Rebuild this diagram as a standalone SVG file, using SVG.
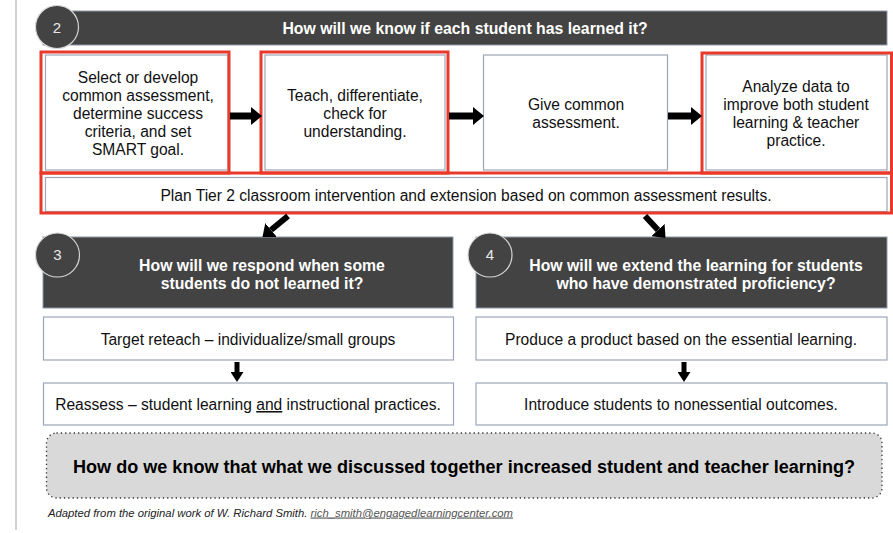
<svg xmlns="http://www.w3.org/2000/svg" width="893" height="533" viewBox="0 0 893 533">
<style>
.box{fill:#fff;stroke:#9ea6b6;stroke-width:1.2}
.red{fill:none;stroke:#e8392b;stroke-width:3}
.hdr{fill:#434343;stroke:#8f97a6;stroke-width:1}
.circ{fill:#434343;stroke:#d6d6d6;stroke-width:1.2}
.num{font-family:"Liberation Sans",Arial,sans-serif;font-size:15px;fill:#e8e8e8;text-anchor:middle}
.ht{font-family:"Liberation Sans",Arial,sans-serif;font-size:15.8px;font-weight:bold;fill:#fff;text-anchor:middle}
.t{font-family:"Liberation Sans",Arial,sans-serif;font-size:15.6px;fill:#111;text-anchor:middle}
.arr{stroke:#000;fill:none}
</style>
<defs>
<marker id="headH" markerUnits="userSpaceOnUse" markerWidth="11" markerHeight="18" refX="0" refY="9" orient="auto"><path d="M0,0 L11,9 L0,18 z" fill="#000"/></marker>
<marker id="headS" markerUnits="userSpaceOnUse" markerWidth="10" markerHeight="13" refX="0" refY="6.5" orient="auto"><path d="M0,0 L10,6.5 L0,13 z" fill="#000"/></marker>
</defs>
<rect width="893" height="533" fill="#fff"/>
<line x1="16" y1="0" x2="16" y2="530" stroke="#d0d0d0" stroke-width="2"/>

<g id="header2">
<rect class="hdr" x="43" y="11" width="844" height="34"/>
<circle class="circ" cx="57" cy="27" r="21.5"/>
<text class="num" x="57" y="32.5">2</text>
<text class="ht" x="465" y="33.5">How will we know if each student has learned it?</text>
</g>

<g id="step1">
<rect class="box" x="45.5" y="55" width="182.5" height="115"/>
<rect class="red" x="41" y="52" width="188" height="121"/>
<text class="t" x="138" y="83">Select or develop</text>
<text class="t" x="138" y="101">common assessment,</text>
<text class="t" x="138" y="119">determine success</text>
<text class="t" x="138" y="137">criteria, and set</text>
<text class="t" x="138" y="155">SMART goal.</text>
</g>

<g id="step2">
<rect class="box" x="265" y="55" width="180" height="115"/>
<rect class="red" x="261" y="52" width="187" height="121"/>
<text class="t" x="355" y="101">Teach, differentiate,</text>
<text class="t" x="355" y="119">check for</text>
<text class="t" x="355" y="137">understanding.</text>
</g>

<g id="step3">
<rect class="box" x="483.5" y="55" width="184" height="115"/>
<text class="t" x="576" y="110">Give common</text>
<text class="t" x="576" y="128">assessment.</text>
</g>

<g id="step4">
<rect class="box" x="706" y="55" width="181" height="115"/>
<rect class="red" x="702" y="53" width="189.5" height="120"/>
<text class="t" x="796" y="92">Analyze data to</text>
<text class="t" x="796" y="110">improve both student</text>
<text class="t" x="796" y="128">learning &amp; teacher</text>
<text class="t" x="796" y="146">practice.</text>
</g>

<g id="plan">
<rect class="box" x="45.5" y="177.5" width="841.5" height="34"/>
<rect class="red" x="41" y="173" width="850.5" height="40"/>
<text class="t" x="466" y="201">Plan Tier 2 classroom intervention and extension based on common assessment results.</text>
</g>

<g id="header3">
<rect class="hdr" x="43" y="237" width="410" height="71"/>
<circle class="circ" cx="57.5" cy="255" r="22"/>
<text class="num" x="57.5" y="260">3</text>
<text class="ht" x="262" y="270.5">How will we respond when some</text>
<text class="ht" x="262" y="288.5">students do not learned it?</text>
</g>

<g id="header4">
<rect class="hdr" x="476" y="237" width="411" height="71"/>
<circle class="circ" cx="490" cy="255" r="22"/>
<text class="num" x="490" y="260">4</text>
<text class="ht" x="696" y="270.5">How will we extend the learning for students</text>
<text class="ht" x="696" y="288.5">who have demonstrated proficiency?</text>
</g>

<g id="reteach">
<rect class="box" x="43.5" y="317" width="410" height="43"/>
<text class="t" x="248" y="345">Target reteach – individualize/small groups</text>
</g>

<g id="reassess">
<rect class="box" x="43.5" y="383" width="410" height="42"/>
<text class="t" x="248" y="410">Reassess – student learning <tspan text-decoration="underline">and</tspan> instructional practices.</text>
</g>

<g id="product">
<rect class="box" x="476" y="317" width="411" height="43"/>
<text class="t" x="681" y="345">Produce a product based on the essential learning.</text>
</g>

<g id="introduce">
<rect class="box" x="476" y="383" width="411" height="42"/>
<text class="t" x="681" y="410">Introduce students to nonessential outcomes.</text>
</g>

<g id="connectors">
<line class="arr" x1="230" y1="116" x2="251" y2="116" stroke-width="7" marker-end="url(#headH)"/>
<line class="arr" x1="449" y1="116" x2="473" y2="116" stroke-width="7" marker-end="url(#headH)"/>
<line class="arr" x1="668" y1="116" x2="691" y2="116" stroke-width="7" marker-end="url(#headH)"/>
<line class="arr" x1="288" y1="216" x2="271" y2="230" stroke-width="6" marker-end="url(#headH)"/>
<line class="arr" x1="645" y1="216" x2="658" y2="230" stroke-width="6" marker-end="url(#headH)"/>
<line class="arr" x1="237" y1="362" x2="237" y2="372" stroke-width="5" marker-end="url(#headS)"/>
<line class="arr" x1="684" y1="362" x2="684" y2="372" stroke-width="5" marker-end="url(#headS)"/>
</g>

<g id="question">
<rect x="46.5" y="433" width="835.5" height="65" rx="10" ry="10" fill="#d9d9d9" stroke="#333" stroke-width="1.3" stroke-dasharray="1.3,3"/>
<text x="464" y="472.5" font-family="'Liberation Sans',Arial,sans-serif" font-size="18" font-weight="bold" fill="#000" text-anchor="middle" textLength="782" lengthAdjust="spacingAndGlyphs">How do we know that what we discussed together increased student and teacher learning?</text>
</g>

<g id="footer">
<text x="48" y="516.5" font-family="'Liberation Sans',Arial,sans-serif" font-size="11" font-style="italic" fill="#222" textLength="465" lengthAdjust="spacingAndGlyphs">Adapted from the original work of W. Richard Smith. <tspan fill="#555" text-decoration="underline">rich_smith@engagedlearningcenter.com</tspan></text>
</g>
</svg>
